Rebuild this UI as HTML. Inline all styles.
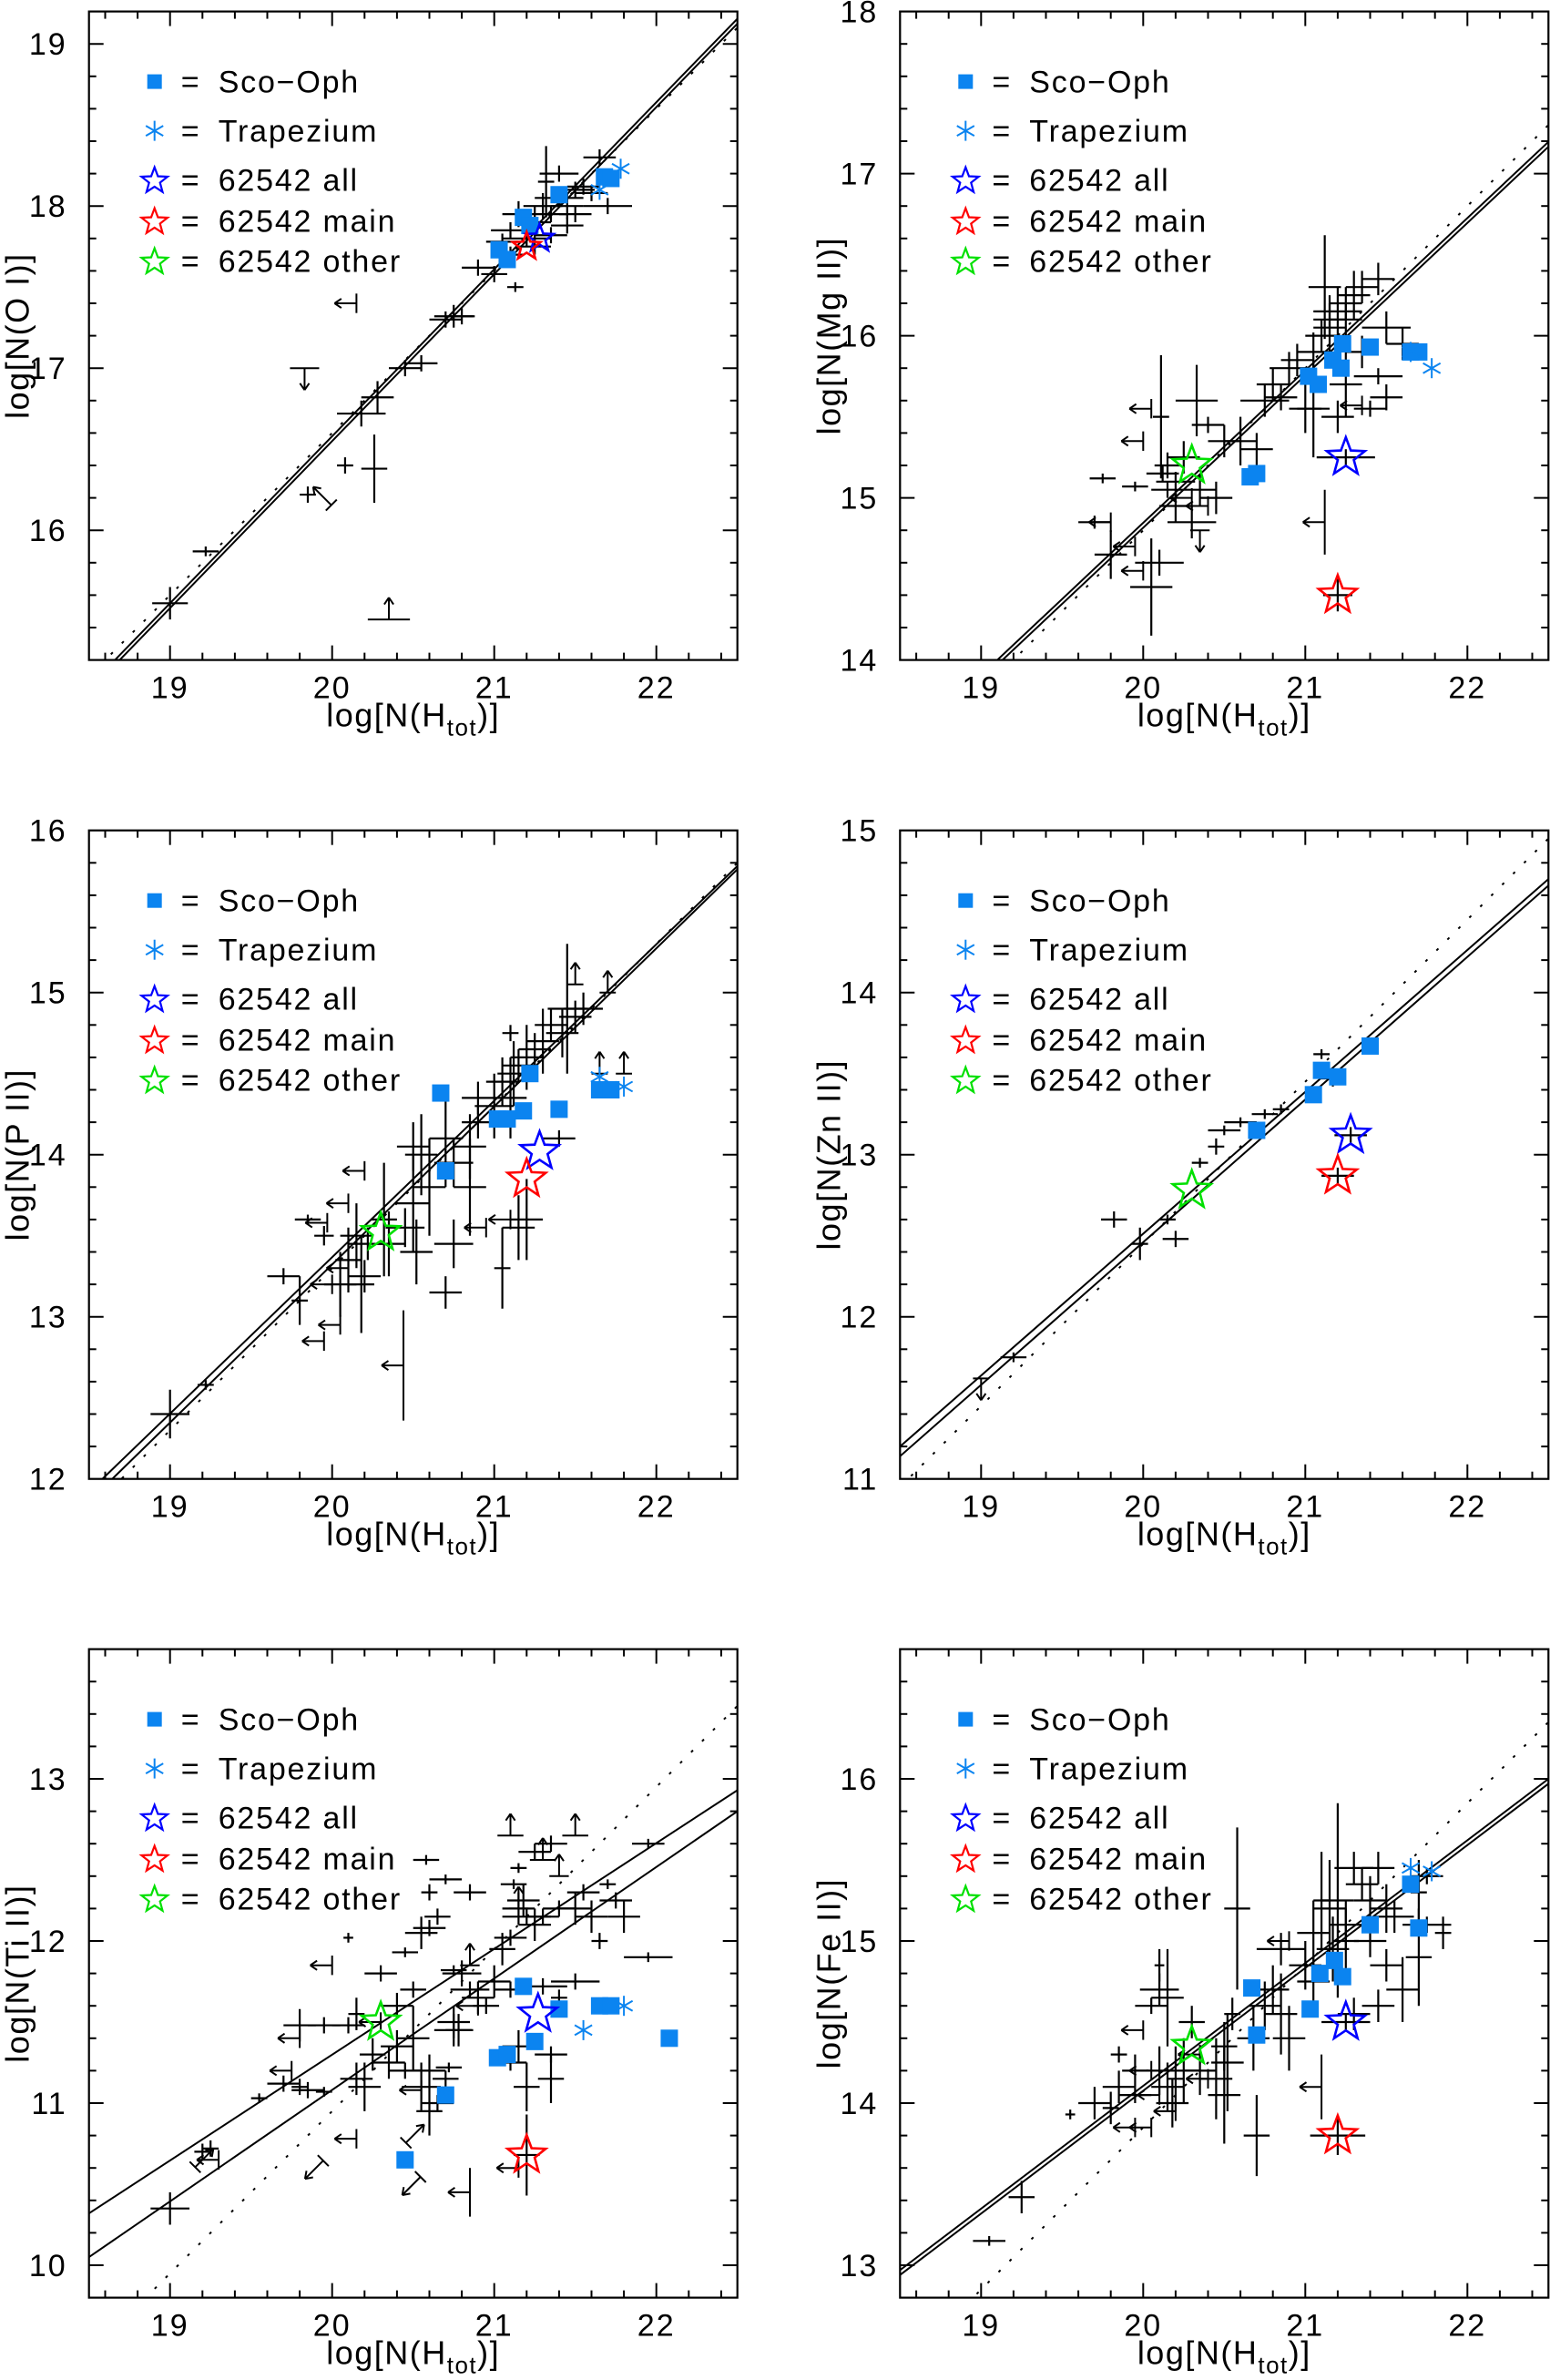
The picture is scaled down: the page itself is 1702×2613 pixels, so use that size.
<!DOCTYPE html>
<html><head><meta charset="utf-8"><style>
html,body{margin:0;padding:0;background:#fff;}
svg text{font-family:"Liberation Sans",sans-serif;fill:#000;}
</style></head><body>
<svg id="fig" xmlns="http://www.w3.org/2000/svg" width="1702" height="2608" viewBox="0 0 1702 2608"></svg>
<script>
// ---------- DATA ----------
// crosses: [x, y, xerr, yerr]; limits: [x, y, dir, barErr]
const oiCrosses=[[19.0,15.55,.11,.1],[19.22,15.87,.08,.03],[19.85,16.22,.05,.05],[20.08,16.4,.05,.05],[20.26,16.38,.08,.21],[20.18,16.72,.15,.08],[20.28,16.82,.1,.1],[20.45,17.0,.1,.05],[20.55,17.03,.1,.05],[20.7,17.3,.1,.05],[20.75,17.32,.12,.07],[20.8,17.32,.08,.05],[20.9,17.62,.1,.05],[21.0,17.58,.08,.05],[21.13,17.5,.05,.03],[21.05,17.78,.1,.05],[21.1,17.85,.12,.05],[21.15,17.95,.1,.08],[21.2,17.8,.15,.05],[21.25,17.9,.1,.1],[21.3,18.0,.12,.08],[21.35,17.95,.1,.05],[21.32,18.15,.05,.22],[21.4,18.05,.15,.05],[21.45,18.0,.1,.08],[21.5,18.1,.12,.05],[21.55,18.12,.1,.05],[21.6,18.08,.1,.05],[21.65,18.3,.1,.05],[21.7,18.0,.15,.05],[21.25,17.75,.1,.05],[21.35,17.82,.1,.05],[21.45,17.88,.1,.05],[21.1,17.7,.08,.05],[21.4,18.2,.12,.05],[21.5,17.95,.1,.05]];
const oiLimits=[[20.15,17.4,'L',.06],[19.83,17.0,'D',.09],[19.95,16.2,'UL',0],[20.35,15.45,'U',.13]];
const oiScoX=[21.03,21.08,21.18,21.22,21.4,21.68,21.72];
const oiScoY=[17.73,17.67,17.93,17.88,18.07,18.18,18.17];
const oiTrapX=[21.78,21.65];
const oiTrapY=[18.23,18.1];
const oiStars=[[21.28,17.8,'all'],[21.2,17.75,'main']];
const oiSolid=[15.035,19.155,15.005,19.125];
const oiDotted=[15.1,19.1];

const mgCrosses=[[19.7,14.85,.1,.04],[19.8,14.65,.1,.15],[19.75,15.12,.08,.03],[19.95,15.07,.08,.03],[20.05,14.45,.13,.3],[20.1,14.6,.15,.08],[20.11,15.5,.05,.38],[20.33,15.6,.13,.22],[20.12,15.15,.1,.05],[20.15,15.2,.08,.08],[20.2,15.1,.12,.06],[20.25,15.25,.1,.1],[20.15,15.05,.1,.05],[20.35,15.05,.1,.1],[20.45,15.0,.1,.1],[20.4,15.45,.1,.05],[20.5,15.35,.1,.1],[20.6,15.35,.1,.15],[20.7,15.3,.1,.1],[20.2,14.95,.1,.1],[20.3,14.85,.15,.1],[20.75,15.6,.15,.1],[20.8,15.7,.1,.1],[20.85,15.62,.1,.08],[20.9,15.8,.12,.1],[20.95,15.85,.1,.1],[21.0,15.55,.1,.15],[21.05,15.55,.1,.3],[21.05,15.9,.1,.12],[21.1,16.0,.1,.1],[21.15,16.1,.1,.1],[21.2,16.15,.15,.15],[21.25,16.2,.1,.1],[21.3,16.25,.1,.15],[21.35,16.3,.1,.1],[21.45,16.35,.1,.1],[21.15,16.05,.1,.2],[21.25,16.1,.1,.1],[21.12,16.3,.1,.32],[21.5,16.05,.15,.1],[21.6,15.95,.1,.1],[21.45,15.75,.15,.05],[21.5,15.62,.1,.08],[21.4,15.55,.1,.05],[21.2,15.5,.1,.1],[21.25,15.7,.1,.2],[21.35,15.9,.1,.1],[21.25,15.25,.18,.05],[21.2,14.4,.09,.1]];
const mgLimits=[[20.05,15.55,'L',.06],[20.0,15.35,'L',.06],[19.8,14.85,'L',.06],[20.0,14.55,'L',.06],[19.95,14.7,'L',.06],[20.4,14.95,'L',.06],[20.3,15.0,'L',.06],[21.12,14.85,'L',.2],[21.35,15.57,'L',.06],[20.35,14.8,'D',.06]];
const mgScoX=[20.66,20.7,21.02,21.08,21.17,21.22,21.23,21.4,21.65,21.7];
const mgScoY=[15.13,15.15,15.75,15.7,15.85,15.8,15.95,15.93,15.9,15.9];
const mgTrapX=[21.78,21.65];
const mgTrapY=[15.8,15.9];
const mgStars=[[21.25,15.25,'all'],[21.2,14.4,'main'],[20.3,15.2,'other']];
const mgSolid=[13.436,17.196,13.406,17.166];
const mgDotted=[13.3,17.3];

const pCrosses=[[19.0,12.4,.12,.15],[19.22,12.58,.05,.03],[19.7,13.25,.1,.05],[19.8,13.1,.05,.15],[19.85,13.6,.08,.03],[19.95,13.5,.06,.06],[20.05,13.2,.1,.2],[20.1,13.35,.08,.2],[20.15,13.5,.1,.2],[20.18,13.2,.08,.3],[20.2,13.25,.1,.1],[20.22,13.45,.12,.1],[20.32,13.6,.08,.35],[20.35,13.45,.1,.2],[20.45,13.55,.12,.12],[20.5,13.7,.1,.3],[20.52,13.4,.1,.2],[20.5,14.05,.1,.15],[20.55,14.0,.1,.25],[20.6,13.8,.1,.3],[20.7,14.1,.1,.3],[20.75,13.95,.12,.15],[20.85,14.05,.1,.2],[20.9,14.2,.1,.1],[20.85,13.8,.1,.3],[20.75,13.45,.12,.15],[20.7,13.15,.1,.1],[20.9,14.35,.1,.1],[21.0,14.3,.12,.2],[21.05,14.45,.1,.15],[21.1,14.35,.1,.25],[21.12,14.5,.1,.2],[21.15,14.55,.1,.1],[21.2,14.6,.1,.2],[21.25,14.65,.1,.1],[21.3,14.7,.1,.2],[21.35,14.8,.1,.1],[21.42,14.75,.1,.15],[21.45,14.9,.12,.4],[21.5,14.85,.1,.1],[21.55,14.9,.12,.1],[21.1,14.75,.05,.05],[21.4,14.1,.1,.05],[21.2,13.6,.1,.25],[21.15,13.55,.1,.2],[21.05,13.3,.05,.25]];
const pLimits=[[20.2,13.9,'L',.06],[20.1,13.7,'L',.06],[19.97,13.58,'L',.06],[20.0,13.2,'L',.06],[20.1,13.3,'L',.06],[20.05,12.95,'L',.06],[19.95,12.85,'L',.06],[20.44,12.7,'L',.34],[20.95,13.55,'L',.06],[21.1,13.6,'L',.06],[21.5,15.05,'U',.05],[21.7,15.0,'U',.05],[21.65,14.5,'U',.05],[21.8,14.5,'U',.05]];
const pScoX=[20.67,20.7,21.02,21.08,21.18,21.22,21.4,21.65,21.72];
const pScoY=[14.38,13.9,14.22,14.22,14.27,14.5,14.28,14.4,14.4];
const pTrapX=[21.8,21.65];
const pTrapY=[14.42,14.48];
const pStars=[[21.28,14.02,'all'],[21.2,13.85,'main'],[20.3,13.52,'other']];
const pSolid=[11.92,15.78,11.86,15.76];
const pDotted=[11.8,15.8];

const znCrosses=[[19.2,11.75,.08,.03],[19.82,12.6,.08,.05],[19.98,12.45,.05,.1],[20.15,12.6,.05,.03],[20.2,12.48,.08,.05],[20.35,12.95,.05,.03],[20.45,13.05,.05,.05],[20.6,13.2,.1,.03],[20.5,13.15,.1,.03],[20.75,13.25,.08,.03],[20.85,13.28,.05,.03],[21.1,13.62,.05,.03],[21.17,13.47,.08,.05],[21.28,13.12,.1,.05],[21.2,12.87,.1,.05]];
const znLimits=[[19.0,11.62,'D',.05]];
const znScoX=[20.7,21.05,21.1,21.2,21.4];
const znScoY=[13.15,13.37,13.52,13.48,13.67];
const znTrapX=[];
const znTrapY=[];
const znStars=[[21.28,13.12,'all'],[21.2,12.87,'main'],[20.3,12.78,'other']];
const znSolid=[11.2,14.7,11.14,14.66];
const znDotted=[10.95,14.95];

const tiCrosses=[[19.0,10.35,.12,.1],[19.2,10.7,.05,.05],[19.25,10.72,.05,.05],[19.55,11.03,.05,.03],[19.7,11.12,.1,.05],[19.8,11.1,.05,.05],[19.85,11.08,.1,.05],[19.95,11.07,.05,.03],[19.8,11.48,.1,.1],[19.95,11.48,.1,.05],[20.1,11.48,.1,.05],[20.15,11.55,.05,.1],[20.1,12.02,.03,.03],[20.3,11.8,.1,.05],[20.4,11.6,.1,.08],[20.5,11.7,.08,.05],[20.15,11.15,.1,.1],[20.2,11.1,.1,.15],[20.25,11.3,.08,.1],[20.35,11.25,.1,.1],[20.4,11.35,.1,.1],[20.45,11.2,.1,.05],[20.5,11.4,.1,.2],[20.55,11.1,.12,.15],[20.6,11.2,.1,.1],[20.65,11.0,.1,.05],[20.6,10.95,.08,.15],[20.72,11.22,.08,.03],[20.45,11.93,.08,.03],[20.55,12.05,.1,.1],[20.6,12.08,.1,.05],[20.65,12.15,.08,.05],[20.58,12.5,.08,.03],[20.6,12.3,.05,.05],[20.7,12.38,.1,.03],[20.85,12.3,.1,.05],[20.75,11.82,.08,.03],[20.8,11.8,.12,.08],[20.85,11.7,.12,.05],[20.9,11.65,.1,.1],[20.95,11.6,.08,.05],[20.75,11.5,.1,.1],[20.75,11.45,.12,.1],[21.05,11.95,.08,.1],[21.1,12.02,.1,.05],[21.15,12.2,.1,.1],[21.18,12.25,.1,.1],[21.12,12.35,.08,.03],[21.2,12.15,.15,.05],[21.25,12.1,.1,.1],[21.3,12.15,.1,.05],[21.4,12.2,.1,.05],[21.5,12.2,.1,.1],[21.6,12.15,.1,.1],[21.55,12.3,.1,.05],[21.65,12.0,.05,.05],[21.75,12.25,.1,.05],[21.8,12.15,.1,.1],[21.7,12.35,.05,.03],[21.95,12.6,.1,.03],[21.95,11.9,.15,.03],[21.25,12.55,.1,.05],[21.35,12.6,.1,.05],[21.15,12.45,.05,.03],[21.0,11.75,.1,.1],[21.1,11.7,.1,.05],[21.3,11.72,.15,.05],[21.5,11.75,.15,.05],[21.4,11.65,.05,.05],[21.2,11.1,.08,.15],[21.35,11.15,.08,.15],[21.15,11.35,.1,.1],[21.35,11.3,.1,.05],[21.1,11.25,.1,.05],[20.78,11.45,.08,.1],[20.7,11.15,.08,.05],[21.2,10.68,.08,.25]];
const tiLimits=[[20.0,11.85,'L',.06],[19.8,11.4,'L',.06],[19.75,11.2,'L',.06],[20.15,10.78,'L',.06],[20.85,10.45,'L',.15],[19.3,10.65,'L',.06],[21.15,10.6,'L',.06],[20.55,11.08,'L',.06],[20.3,11.5,'L',.06],[20.9,11.6,'L',.06],[21.1,12.65,'U',.08],[21.5,12.65,'U',.08],[21.3,12.5,'U',.08],[21.4,12.4,'U',.06],[20.85,11.85,'U',.06],[21.15,12.2,'U',.06],[19.9,10.6,'DL',0],[20.5,10.5,'DL',0],[20.5,10.8,'UR',0],[19.2,10.65,'UR',0]];
const tiScoX=[20.45,20.7,21.02,21.08,21.18,21.25,21.4,21.65,21.72,22.08];
const tiScoY=[10.65,11.05,11.28,11.3,11.72,11.38,11.58,11.6,11.6,11.4];
const tiTrapX=[21.55,21.8];
const tiTrapY=[11.45,11.6];
const tiStars=[[21.27,11.55,'all'],[21.2,10.68,'main'],[20.3,11.5,'other']];
const tiSolid=[10.32,12.93,10.05,12.8];
const tiDotted=[9.45,13.45];

const feCrosses=[[19.05,13.15,.1,.03],[19.25,13.42,.08,.1],[19.55,13.93,.03,.03],[19.7,14.0,.1,.1],[19.8,13.97,.05,.1],[19.85,14.1,.1,.1],[19.85,14.3,.05,.05],[19.95,14.2,.08,.1],[19.95,14.05,.1,.05],[20.05,14.6,.1,.05],[20.1,14.7,.12,.1],[20.1,14.85,.03,.1],[20.15,14.65,.1,.3],[20.1,14.2,.08,.15],[20.15,14.1,.1,.15],[20.2,14.15,.05,.2],[20.18,14.0,.1,.15],[20.25,14.2,.1,.2],[20.3,14.5,.08,.1],[20.35,14.2,.1,.15],[20.45,14.15,.1,.25],[20.5,14.05,.1,.3],[20.5,14.35,.08,.15],[20.52,14.25,.1,.3],[20.58,15.2,.08,.5],[20.55,14.55,.05,.1],[20.68,14.4,.1,.2],[20.75,14.6,.1,.15],[20.8,14.7,.1,.15],[20.85,14.55,.1,.25],[20.85,14.95,.15,.1],[20.7,13.8,.08,.25],[20.9,14.4,.1,.2],[21.0,14.85,.1,.15],[21.05,15.05,.1,.2],[21.05,14.75,.1,.15],[21.1,15.25,.05,.3],[21.15,15.2,.1,.3],[21.17,14.95,.1,.2],[21.2,15.25,.1,.6],[21.25,15.0,.08,.2],[21.25,15.1,.1,.15],[21.3,15.45,.12,.1],[21.35,15.35,.1,.1],[21.4,15.25,.1,.15],[21.45,15.45,.1,.1],[21.5,15.2,.1,.15],[21.55,15.15,.12,.1],[21.4,15.0,.1,.1],[21.5,14.85,.1,.1],[21.45,14.6,.1,.1],[21.3,14.55,.1,.1],[21.6,14.7,.1,.2],[21.7,14.9,.08,.3],[21.7,15.3,.05,.2],[21.75,15.1,.15,.05],[21.85,15.05,.05,.1],[21.75,15.4,.1,.05],[21.2,13.8,.17,.12],[21.25,14.5,.15,.05]];
const feLimits=[[20.0,14.45,'L',.06],[20.05,14.2,'L',.06],[20.1,14.05,'L',.06],[19.95,13.85,'L',.06],[20.05,13.85,'L',.06],[21.1,14.1,'L',.2],[20.9,15.0,'L',.06],[20.4,14.15,'L',.06],[20.35,14.3,'L',.06],[20.2,13.95,'L',.06]];
const feScoX=[20.67,20.7,21.03,21.09,21.18,21.23,21.4,21.65,21.7];
const feScoY=[14.71,14.42,14.58,14.8,14.88,14.78,15.1,15.35,15.08];
const feTrapX=[21.65,21.78];
const feTrapY=[15.45,15.43];
const feStars=[[21.25,14.5,'all'],[21.2,13.8,'main'],[20.3,14.35,'other']];
const feSolid=[12.97,16.0,12.94,15.97];
const feDotted=[12.35,16.35];

const xTicks=[19,20,21,22];
const legendLabels=['Sco\u2212Oph','Trapezium','62542  all','62542  main','62542  other'];

// ---------- LAYOUT ----------
const NS='http://www.w3.org/2000/svg';
const svg=document.getElementById('fig');
const XMIN=18.5, SPAN=4, SIZE=712, PX=SIZE/SPAN;
const COLX=[97.7,988.3], ROWY=[12.6,911.7,1810.6];
const STARCOL={all:'#0000ff',main:'#ff0000',other:'#00e000'};
const SQC='#0b84f0';
const SQ=19;
const panels=[
 {key:'o-i',label:'O  I',col:0,row:0,ymin:15.2,cr:oiCrosses,li:oiLimits,sx:oiScoX,sy:oiScoY,tx:oiTrapX,ty:oiTrapY,st:oiStars,so:oiSolid,dt:oiDotted,sr:16},
 {key:'mg-ii',label:'Mg  II',col:1,row:0,ymin:14,cr:mgCrosses,li:mgLimits,sx:mgScoX,sy:mgScoY,tx:mgTrapX,ty:mgTrapY,st:mgStars,so:mgSolid,dt:mgDotted,sr:22},
 {key:'p-ii',label:'P  II',col:0,row:1,ymin:12,cr:pCrosses,li:pLimits,sx:pScoX,sy:pScoY,tx:pTrapX,ty:pTrapY,st:pStars,so:pSolid,dt:pDotted,sr:22},
 {key:'zn-ii',label:'Zn  II',col:1,row:1,ymin:11,cr:znCrosses,li:znLimits,sx:znScoX,sy:znScoY,tx:znTrapX,ty:znTrapY,st:znStars,so:znSolid,dt:znDotted,sr:22},
 {key:'ti-ii',label:'Ti  II',col:0,row:2,ymin:9.8,cr:tiCrosses,li:tiLimits,sx:tiScoX,sy:tiScoY,tx:tiTrapX,ty:tiTrapY,st:tiStars,so:tiSolid,dt:tiDotted,sr:22},
 {key:'fe-ii',label:'Fe  II',col:1,row:2,ymin:12.8,cr:feCrosses,li:feLimits,sx:feScoX,sy:feScoY,tx:feTrapX,ty:feTrapY,st:feStars,so:feSolid,dt:feDotted,sr:22}
];

function mk(tag,attrs,parent){const e=document.createElementNS(NS,tag);for(const k in attrs)e.setAttribute(k,attrs[k]);(parent||svg).appendChild(e);return e;}
function line(p,x1,y1,x2,y2,w,extra){const l=mk('line',{x1:x1,y1:y1,x2:x2,y2:y2,stroke:'#000','stroke-width':w||2},p);if(extra)for(const k in extra)l.setAttribute(k,extra[k]);return l;}
function starPts(cx,cy,R){const r=R*0.42;let s=[];for(let i=0;i<10;i++){const a=-Math.PI/2+i*Math.PI/5;const rr=i%2?r:R;s.push((cx+rr*Math.cos(a)).toFixed(1)+','+(cy+rr*Math.sin(a)).toFixed(1));}return s.join(' ');}
function arrowHead(p,x,y,ang){const h=9;for(const d of [-0.6,0.6]){line(p,x,y,x-h*Math.cos(ang+d),y-h*Math.sin(ang+d),2);}}

panels.forEach((P,pi)=>{
 const x0=COLX[P.col], y0=ROWY[P.row], ymax=P.ymin+SPAN;
 const X=v=>x0+(v-XMIN)*PX, Y=v=>y0+(ymax-v)*PX;
 const g=mk('g',{});
 
 
 const cp=mk('clipPath',{id:'clip'+pi},g);mk('rect',{x:x0,y:y0,width:SIZE,height:SIZE},cp);
 const fr=mk('rect',{x:x0,y:y0,width:SIZE,height:SIZE,fill:'none',stroke:'#000','stroke-width':2.2},g);
 
 
 for(let t=18.6;t<22.45;t+=0.2){const tt=Math.round(t*10)/10;const maj=Math.abs(tt-Math.round(tt))<1e-6;const L=maj?16:8;const px=X(tt);
  line(g,px,y0+SIZE,px,y0+SIZE-L,2);line(g,px,y0,px,y0+L,2);}
 xTicks.forEach(t=>{const tx=mk('text',{x:X(t),y:y0+SIZE+42,'font-size':34,'text-anchor':'middle','letter-spacing':2},g);tx.textContent=t;
  
  });
 for(let t=P.ymin+0.2;t<ymax-0.05;t+=0.2){const tt=Math.round(t*10)/10;const maj=Math.abs(tt-Math.round(tt))<1e-6;const L=maj?16:8;const py=Y(tt);
  line(g,x0,py,x0+L,py,2);line(g,x0+SIZE,py,x0+SIZE-L,py,2);}
 for(let t=Math.ceil(P.ymin);t<=ymax+1e-6;t++){const ty=mk('text',{x:x0-24,y:Y(t)+12,'font-size':34,'text-anchor':'end','letter-spacing':2},g);ty.textContent=t;
  
  }
 const xt=mk('text',{x:x0+SIZE/2,y:y0+SIZE+73,'font-size':36,'text-anchor':'middle','letter-spacing':1.5},g);
 
 
 xt.appendChild(document.createTextNode('log[N(H'));
 const sub=mk('tspan',{'font-size':26,dy:10},xt);sub.textContent='tot';
 const rest=mk('tspan',{dy:-10},xt);rest.textContent=')]';
 const yt=mk('text',{x:0,y:0,'font-size':36,'text-anchor':'middle','letter-spacing':1.5,'xml:space':'preserve',transform:`translate(${x0-66},${y0+SIZE/2}) rotate(-90)`},g);
 
 
 yt.textContent='log[N('+P.label+')]';
 const c=mk('g',{'clip-path':`url(#clip${pi})`},g);
 const s1=line(c,X(18.5),Y(P.so[0]),X(22.5),Y(P.so[1]),2);
 
 
 const s2=line(c,X(18.5),Y(P.so[2]),X(22.5),Y(P.so[3]),2);
 
 
 const d1=line(c,X(18.5),Y(P.dt[0]),X(22.5),Y(P.dt[1]),2,{'stroke-dasharray':'3 14'});
 
 
 P.cr.forEach(d=>{const cg=mk('g',{},c);
  
  
  line(cg,X(d[0]-d[2]),Y(d[1]),X(d[0]+d[2]),Y(d[1]),2.2);line(cg,X(d[0]),Y(d[1]-d[3]),X(d[0]),Y(d[1]+d[3]),2.2);});
 P.li.forEach(d=>{const lg=mk('g',{},c);
  
  
  const px=X(d[0]),py=Y(d[1]),A=24,e=d[3]*PX;
  if(d[2]==='L'){line(lg,px,py-e,px,py+e,2);line(lg,px,py,px-A,py,2);arrowHead(lg,px-A,py,Math.PI);}
  else if(d[2]==='D'){line(lg,px-e,py,px+e,py,2);line(lg,px,py,px,py+A,2);arrowHead(lg,px,py+A,Math.PI/2);}
  else if(d[2]==='U'){line(lg,px-e,py,px+e,py,2);line(lg,px,py,px,py-A,2);arrowHead(lg,px,py-A,-Math.PI/2);}
  else if(d[2]==='UL'){line(lg,px+8,py+8,px-12,py-12,2);arrowHead(lg,px-12,py-12,-3*Math.PI/4);line(lg,px+2,py+14,px+14,py+2,2);}
  else if(d[2]==='UR'){line(lg,px-8,py+8,px+12,py-12,2);arrowHead(lg,px+12,py-12,-Math.PI/4);line(lg,px-14,py+2,px-2,py+14,2);}
  else if(d[2]==='DL'){line(lg,px+8,py-8,px-12,py+12,2);arrowHead(lg,px-12,py+12,3*Math.PI/4);line(lg,px+2,py-14,px+14,py-2,2);}
 });
 P.sx.forEach((v,i)=>{const r=mk('rect',{x:X(v)-SQ/2,y:Y(P.sy[i])-SQ/2,width:SQ,height:SQ,fill:SQC},c);
  
  });
 P.tx.forEach((v,i)=>{const ag=mk('g',{},c);
  
  
  const px=X(v),py=Y(P.ty[i]);[90,30,150].forEach(a=>{const r=a*Math.PI/180;line(ag,px-11*Math.cos(r),py-11*Math.sin(r),px+11*Math.cos(r),py+11*Math.sin(r),2,{stroke:SQC});});});
 P.st.forEach(d=>{const p=mk('polygon',{points:starPts(X(d[0]),Y(d[1]),P.sr),fill:'none',stroke:STARCOL[d[2]],'stroke-width':2.6},c);
  
  });
 const lg=mk('g',{},g);
 
 
 const offs=[77,131,185,230,274];
 legendLabels.forEach((lab,i)=>{const ey=y0+offs[i], sx=x0+72;
  const eg=mk('g',{},lg);
  
  
  if(i===0)mk('rect',{x:sx-8,y:ey-8,width:16,height:16,fill:SQC},eg);
  else if(i===1){[90,30,150].forEach(a=>{const r=a*Math.PI/180;line(eg,sx-11*Math.cos(r),ey-11*Math.sin(r),sx+11*Math.cos(r),ey+11*Math.sin(r),2,{stroke:SQC});});}
  else mk('polygon',{points:starPts(sx,ey+1,15),fill:'none',stroke:STARCOL[['all','main','other'][i-2]],'stroke-width':2.2},eg);
  const eq=mk('text',{x:x0+111,y:ey+12,'font-size':34,'text-anchor':'middle'},eg);eq.textContent='=';
  const t=mk('text',{x:x0+142,y:ey+12,'font-size':34,'letter-spacing':1.8,'xml:space':'preserve'},eg);t.textContent=lab;
 });
});
</script>
</body></html>
